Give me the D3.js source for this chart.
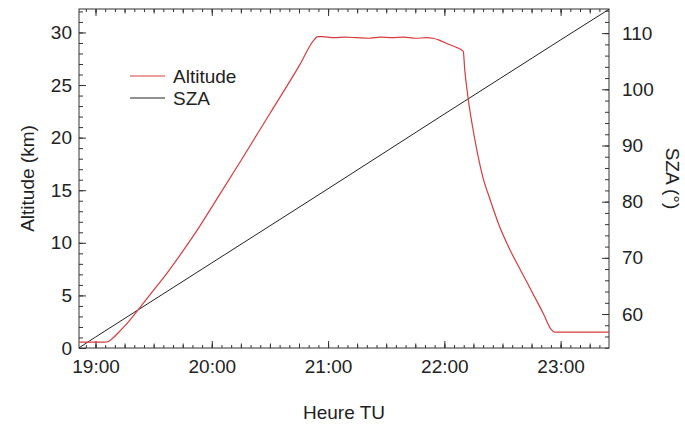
<!DOCTYPE html>
<html><head><meta charset="utf-8">
<script src="https://cdn.jsdelivr.net/npm/d3@7"></script>
<style>
html,body{margin:0;padding:0;background:#fff;}
svg{display:block;}
text{font-family:"Liberation Sans",Arial,sans-serif;fill:#222;}
</style></head><body>
<svg id="chart" width="685" height="434"></svg>
<script>
// ---- data (time in decimal hours UT) ----
const altTime = [18.86, 19.00, 19.08, 19.11, 19.15, 19.20, 19.26, 19.31, 19.40, 19.50, 19.62, 19.76, 19.88, 20.00, 20.25, 20.50, 20.75, 20.88, 20.91, 20.95, 21.05, 21.15, 21.25, 21.35, 21.45, 21.55, 21.65, 21.75, 21.85, 21.90, 21.95, 22.03, 22.10, 22.163, 22.175, 22.19, 22.206, 22.24, 22.28, 22.33, 22.394, 22.47, 22.566, 22.66, 22.77, 22.85, 22.92, 22.95, 23.42];
const altKm   = [0.55, 0.55, 0.55, 0.62, 0.95, 1.5, 2.2, 2.85, 4.1, 5.5, 7.2, 9.35, 11.3, 13.4, 17.8, 22.3, 26.8, 29.3, 29.6, 29.6, 29.5, 29.55, 29.5, 29.45, 29.55, 29.5, 29.55, 29.45, 29.5, 29.45, 29.3, 28.9, 28.6, 28.2, 26.5, 25.0, 23.6, 21.2, 18.8, 16.3, 14.1, 11.7, 9.3, 7.3, 5.0, 3.3, 1.75, 1.5, 1.5];
const szaTime = [18.86, 19, 20, 21, 22, 23, 23.42];
const szaDeg  = [54.0, 55.9, 69.1, 82.3, 95.6, 108.8, 114.3];

const xMajor = [19, 20, 21, 22, 23];
const xLabels = ["19:00", "20:00", "21:00", "22:00", "23:00"];
const yLeftMajor = [0, 5, 10, 15, 20, 25, 30];
const yRightMajor = [60, 70, 80, 90, 100, 110];
const seriesNames = ["Altitude", "SZA"];
const seriesColors = ["#d63c3c", "#222222"];

// ---- layout ----
const W = 685, H = 434;
const m = {left: 79, right: 76, top: 9, bottom: 86};
const pw = W - m.left - m.right, ph = H - m.top - m.bottom;
const FS = "19px";
const svg = d3.select("#chart");
const g = svg.append("g").attr("transform", `translate(${m.left},${m.top})`);

const x = d3.scaleLinear().domain([18.858, 23.416]).range([0, pw]);
const yL = d3.scaleLinear().domain([0, 32.23]).range([ph, 0]);
const yR = d3.scaleLinear().domain([53.95, 114.3]).range([ph, 0]);

const minorMin = d3.range(1135, 1405, 5).map(v => v / 60);
const quarterMin = d3.range(1140, 1405, 15).map(v => v / 60);

function styleAxis(sel) {
  sel.select(".domain").remove();
  sel.selectAll("line").attr("stroke", "#333").attr("stroke-width", 1);
  sel.selectAll("text").style("font-size", FS).attr("fill", "#222");
}

// bottom axis
g.append("g").attr("transform", `translate(0,${ph})`)
  .call(d3.axisBottom(x).tickValues(minorMin).tickSize(-3).tickFormat("")).call(styleAxis);
g.append("g").attr("transform", `translate(0,${ph})`)
  .call(d3.axisBottom(x).tickValues(quarterMin).tickSize(-4.5).tickFormat("")).call(styleAxis);
g.append("g").attr("transform", `translate(0,${ph})`)
  .call(d3.axisBottom(x).tickValues(xMajor).tickSize(-7).tickPadding(12)
    .tickFormat((d, i) => xLabels[i])).call(styleAxis)
  .selectAll("text").attr("dy", "0.71em");
// top axis
g.append("g").call(d3.axisTop(x).tickValues(minorMin).tickSize(-3).tickFormat("")).call(styleAxis);
g.append("g").call(d3.axisTop(x).tickValues(quarterMin).tickSize(-4.5).tickFormat("")).call(styleAxis);
g.append("g").call(d3.axisTop(x).tickValues(xMajor).tickSize(-7).tickFormat("")).call(styleAxis);

// left axis
g.append("g").call(d3.axisLeft(yL).tickValues(d3.range(0, 33, 1)).tickSize(-4).tickFormat("")).call(styleAxis);
g.append("g").call(d3.axisLeft(yL).tickValues(yLeftMajor).tickSize(-7).tickPadding(7)).call(styleAxis);
// right axis
g.append("g").attr("transform", `translate(${pw},0)`)
  .call(d3.axisRight(yR).tickValues(d3.range(54, 115, 2)).tickSize(-4).tickFormat("")).call(styleAxis);
g.append("g").attr("transform", `translate(${pw},0)`)
  .call(d3.axisRight(yR).tickValues(yRightMajor).tickSize(-7).tickPadding(13)).call(styleAxis);

// frame
g.append("rect").attr("x", 0).attr("y", 0).attr("width", pw).attr("height", ph)
  .attr("fill", "none").attr("stroke", "#333").attr("stroke-width", 1);

// clip
svg.append("defs").append("clipPath").attr("id", "clip")
  .append("rect").attr("width", pw).attr("height", ph);

const altData = altTime.map((t, i) => [t, altKm[i]]);
const szaData = szaTime.map((t, i) => [t, szaDeg[i]]);

const plot = g.append("g").attr("clip-path", "url(#clip)");
plot.append("path").datum(szaData)
  .attr("d", d3.line().x(d => x(d[0])).y(d => yR(d[1])))
  .attr("fill", "none").attr("stroke", seriesColors[1]).attr("stroke-width", 1);
plot.append("path").datum(altData)
  .attr("d", d3.line().curve(d3.curveMonotoneX).x(d => x(d[0])).y(d => yL(d[1])))
  .attr("fill", "none").attr("stroke", seriesColors[0]).attr("stroke-width", 1.2)
  .attr("stroke-linejoin", "round");

// legend
const leg = svg.append("g");
seriesNames.forEach((n, i) => {
  const ly = 76 + i * 22;
  leg.append("line").attr("x1", 130).attr("x2", 165).attr("y1", ly).attr("y2", ly)
    .attr("stroke", seriesColors[i]).attr("stroke-width", i === 0 ? 1.2 : 1);
  leg.append("text").attr("x", 173).attr("y", ly).attr("dy", "0.35em")
    .style("font-size", FS).text(n);
});

// axis titles
svg.append("text").attr("transform", `translate(27,${m.top + ph / 2}) rotate(-90)`)
  .attr("text-anchor", "middle").attr("dy", "0.35em").style("font-size", FS).text("Altitude (km)");
svg.append("text").attr("transform", `translate(673,${m.top + ph / 2}) rotate(90)`)
  .attr("text-anchor", "middle").attr("dy", "0.35em").style("font-size", FS).text("SZA (°)");
svg.append("text").attr("x", m.left + pw / 2).attr("y", 412).attr("text-anchor", "middle")
  .attr("dy", "0.35em").style("font-size", FS).text("Heure TU");
</script>
</body></html>
